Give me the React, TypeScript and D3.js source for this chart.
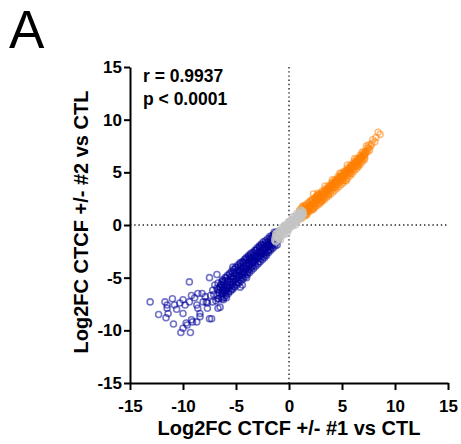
import React, { useRef, useEffect } from 'react';
import { select, scaleLinear, axisLeft, axisBottom } from 'd3';

const panelLabel = 'A';
const statLines = ['r = 0.9937', 'p < 0.0001'];
const xTitle = 'Log2FC CTCF +/- #1 vs CTL';
const yTitle = 'Log2FC CTCF +/- #2 vs CTL';
const xTicks = [-15, -10, -5, 0, 5, 10, 15];
const yTicks = [-15, -10, -5, 0, 5, 10, 15];

// down-regulated genes (blue), [log2FC #1, log2FC #2]
const downPoints = [
  [-1.0, -1.2], [-1.1, -0.8], [-1.2, -1.6], [-1.3, -1.1], [-1.4, -0.7], [-1.5, -1.5],
  [-1.6, -1.9], [-1.6, -1.2], [-1.7, -1.6], [-1.8, -2.3], [-1.8, -1.3], [-1.9, -1.8],
  [-2.0, -2.5], [-2.0, -1.6], [-2.1, -2.1], [-2.2, -2.8], [-2.2, -1.7], [-2.3, -2.4], [-2.3, -1.9],
  [-2.4, -3.0], [-2.5, -2.2], [-2.5, -2.7], [-2.6, -1.9], [-2.7, -3.2], [-2.7, -2.5], [-2.8, -2.9], [-2.8, -2.1],
  [-2.9, -3.5], [-3.0, -2.7], [-3.0, -3.1], [-3.1, -2.4], [-3.2, -3.7], [-3.2, -2.9], [-3.3, -3.3], [-3.3, -2.6],
  [-3.4, -3.9], [-3.5, -3.1], [-3.5, -3.6], [-3.6, -2.8], [-3.7, -4.2], [-3.7, -3.4], [-3.8, -3.8], [-3.8, -3.0],
  [-3.9, -4.5], [-4.0, -3.6], [-4.0, -4.1], [-4.1, -3.2], [-4.2, -4.7], [-4.2, -3.9], [-4.3, -4.3], [-4.3, -3.5],
  [-4.4, -5.0], [-4.5, -4.1], [-4.5, -4.6], [-4.6, -3.7], [-4.7, -5.2], [-4.7, -4.4], [-4.8, -4.8], [-4.8, -4.0],
  [-4.9, -5.5], [-5.0, -4.6], [-5.0, -5.1], [-5.1, -4.2], [-5.2, -5.8], [-5.2, -4.9], [-5.3, -5.4], [-5.3, -4.5],
  [-5.4, -6.1], [-5.5, -5.1], [-5.5, -5.7], [-5.6, -4.7], [-5.7, -6.3], [-5.8, -5.4], [-5.8, -5.9], [-5.9, -5.0],
  [-6.0, -6.5], [-6.1, -5.6], [-6.2, -6.1], [-6.3, -5.2], [-6.4, -6.8], [-6.5, -5.9], [-6.6, -6.4], [-6.7, -5.5],
  [-1.05, -1.5], [-1.25, -1.35], [-1.35, -1.8], [-1.45, -1.0], [-1.55, -1.6], [-1.65, -2.1], [-1.75, -1.4],
  [-1.85, -2.0], [-1.95, -2.4], [-2.05, -1.9], [-2.15, -2.6], [-2.25, -2.1], [-2.35, -2.7], [-2.45, -1.9],
  [-2.55, -2.5], [-2.65, -2.9], [-2.75, -2.2], [-2.85, -2.6], [-2.95, -3.2], [-3.05, -2.4], [-3.15, -3.0],
  [-3.25, -3.5], [-3.35, -2.9], [-3.45, -3.4], [-3.55, -4.0], [-3.65, -3.2], [-3.75, -3.7], [-3.85, -4.3],
  [-3.95, -3.3], [-4.05, -3.9], [-4.15, -4.5], [-4.25, -3.6], [-4.35, -4.1], [-4.45, -4.8], [-4.55, -3.9],
  [-4.65, -4.3], [-4.75, -5.0], [-4.85, -4.3], [-4.95, -4.8], [-5.05, -5.4], [-5.15, -4.6], [-5.25, -5.1],
  [-5.35, -5.7], [-5.45, -4.9], [-5.55, -5.4], [-5.65, -6.0], [-5.75, -5.2], [-5.85, -5.7], [-5.95, -6.3],
  [-6.05, -5.3], [-6.15, -5.9], [-6.25, -6.5], [-6.35, -5.7], [-6.55, -6.2], [-6.75, -6.7],
  [-1.02, -0.6], [-1.12, -1.9], [-1.22, -0.7], [-1.32, -2.0], [-1.42, -0.9], [-1.52, -2.2], [-1.62, -1.0],
  [-1.72, -2.4], [-1.82, -1.1], [-1.92, -2.6], [-2.02, -1.3], [-2.12, -2.9], [-2.22, -1.5], [-2.32, -3.1],
  [-2.42, -1.6], [-2.52, -3.3], [-2.62, -1.8], [-2.72, -3.5], [-2.82, -2.0], [-2.92, -3.7], [-3.02, -2.2],
  [-3.12, -3.9], [-3.22, -2.4], [-3.32, -4.1], [-3.42, -2.6], [-3.52, -4.3], [-3.62, -2.7], [-3.72, -4.5],
  [-3.82, -2.9], [-3.92, -4.7], [-4.02, -3.1], [-4.12, -4.9], [-4.22, -3.3], [-4.32, -5.1], [-4.42, -3.5],
  [-4.52, -5.3], [-4.62, -3.6], [-4.72, -5.5], [-4.82, -3.8], [-4.92, -5.7], [-5.02, -4.0], [-5.12, -5.9],
  [-5.22, -4.2], [-5.32, -6.1], [-5.42, -4.4], [-5.52, -6.3], [-5.62, -4.6], [-5.72, -6.5], [-5.82, -4.8],
  [-5.92, -6.7], [-6.02, -5.0], [-6.12, -6.9], [-6.22, -5.3], [-6.32, -6.2], [-6.42, -5.6], [-6.62, -7.0], [-6.72, -6.1],
  [-1.08, -1.3], [-1.38, -1.45], [-1.68, -1.8], [-1.98, -2.1], [-2.28, -2.3], [-2.58, -2.7], [-2.88, -3.0],
  [-3.18, -3.3], [-3.48, -3.6], [-3.78, -3.9], [-4.08, -4.2], [-4.38, -4.5], [-4.68, -4.8], [-4.98, -5.1],
  [-5.28, -5.4], [-5.58, -5.7], [-5.88, -6.0], [-6.18, -6.3],
  [-6.9, -7.2], [-6.8, -6.0], [-7.1, -6.6], [-6.3, -7.0], [-5.9, -6.9], [-4.4, -5.7], [-4.0, -5.0], [-3.7, -3.1],
  [-13.1, -7.3], [-12.3, -8.5], [-11.7, -7.3], [-11.5, -7.9], [-11.6, -8.8], [-11.0, -7.0], [-10.8, -7.6],
  [-10.6, -8.0], [-10.9, -9.4], [-10.2, -10.2], [-10.0, -7.1], [-10.0, -8.4], [-9.4, -5.4], [-9.3, -10.2],
  [-9.6, -9.5], [-9.1, -9.2], [-8.9, -6.9], [-8.7, -7.6], [-8.4, -8.4], [-8.2, -6.5], [-8.1, -7.3],
  [-7.7, -7.4], [-7.4, -6.7], [-7.5, -8.9], [-7.0, -5.7], [-6.5, -7.8], [-6.2, -7.1], [-7.5, -5.0],
  [-6.8, -4.7], [-6.3, -5.4], [-6.1, -6.2], [-6.7, -7.9], [-7.3, -8.9], [-4.6, -5.9], [-5.3, -4.0],
  [-10.3, -7.4], [-9.8, -7.6], [-9.4, -7.3], [-9.2, -6.7], [-8.6, -6.5], [-7.9, -6.8], [-7.8, -7.3],
  [-7.7, -7.9], [-8.6, -7.9], [-8.4, -8.7], [-8.7, -9.2], [-9.7, -9.3], [-10.0, -9.8], [-9.2, -9.0],
  [-7.2, -6.2], [-6.7, -7.0], [-6.5, -5.9], [-7.2, -7.3], [-6.3, -6.5], [-5.9, -6.2], [-11.4, -8.4], [-11.5, -7.6],
];

// up-regulated genes (orange)
const upPoints = [
  [1.0, 1.3], [1.1, 0.8], [1.2, 1.1], [1.3, 1.5], [1.4, 1.0], [1.5, 1.3], [1.6, 1.8], [1.7, 1.2],
  [1.8, 1.6], [1.9, 2.0], [2.0, 1.5], [2.1, 1.9], [2.2, 2.3], [2.3, 1.7], [2.4, 2.1], [2.5, 2.6],
  [2.6, 2.0], [2.7, 2.4], [2.8, 2.9], [2.9, 2.3], [3.0, 2.7], [3.1, 3.2], [3.2, 2.6], [3.3, 3.0],
  [3.4, 3.4], [3.5, 2.9], [3.6, 3.3], [3.7, 3.7], [3.8, 3.2], [3.9, 3.6], [4.0, 4.0], [4.1, 3.5],
  [4.2, 3.9], [4.3, 4.3], [4.4, 3.8], [4.5, 4.2], [4.6, 4.6], [4.7, 4.0], [4.8, 4.4], [4.9, 4.9],
  [5.0, 4.3], [5.1, 4.7], [5.2, 5.1], [5.3, 4.6], [5.4, 5.0], [5.5, 5.4], [5.6, 4.9], [5.7, 5.3],
  [5.8, 5.7], [5.9, 5.2], [6.0, 5.6], [6.1, 6.0], [6.2, 5.5], [6.3, 5.9], [6.4, 6.3], [6.5, 5.8],
  [6.6, 6.2], [6.7, 6.6], [6.8, 6.2], [6.9, 6.5], [7.0, 6.9], [7.1, 6.6], [7.2, 7.0],
  [1.15, 1.4], [1.45, 1.6], [1.75, 1.5], [2.05, 1.8], [2.35, 2.0], [2.65, 2.5], [2.95, 2.6],
  [3.25, 2.8], [3.55, 3.2], [3.85, 3.4], [4.15, 3.7], [4.45, 4.0], [4.75, 4.5], [5.05, 4.6],
  [5.35, 4.9], [5.65, 5.1], [5.95, 5.5], [6.25, 5.7], [6.55, 6.1], [6.85, 6.4],
  [1.05, 1.0], [1.25, 1.25], [1.35, 0.9], [1.55, 1.1], [1.65, 1.45], [1.85, 1.3], [1.95, 1.7],
  [2.15, 1.55], [2.25, 2.0], [2.45, 1.8], [2.55, 2.25], [2.75, 2.1], [2.85, 2.55], [3.05, 2.35],
  [3.15, 2.9], [3.35, 2.65], [3.45, 3.1], [3.65, 2.95], [3.75, 3.45], [3.95, 3.25], [4.05, 3.7],
  [4.25, 3.55], [4.35, 4.05], [4.55, 3.85], [4.65, 4.35], [4.85, 4.15], [4.95, 4.6], [5.15, 4.4],
  [5.25, 4.85], [5.45, 4.7], [5.55, 5.15], [5.75, 5.0], [5.85, 5.45], [6.05, 5.3], [6.15, 5.75],
  [6.35, 5.6], [6.45, 6.05], [6.65, 5.9], [6.75, 6.35], [6.95, 6.25], [7.05, 6.7], [7.15, 6.4],
  [1.3, 1.8], [2.0, 2.3], [2.7, 3.0], [3.4, 3.7], [4.1, 4.3], [4.8, 4.9], [5.5, 5.7], [6.2, 6.3], [6.9, 6.9],
  [1.6, 0.9], [2.3, 1.5], [3.0, 2.2], [3.7, 2.9], [4.4, 3.6], [5.1, 4.2], [5.8, 4.9], [6.5, 5.6],
  [1.02, 1.45], [1.12, 0.6], [1.22, 1.65], [1.32, 0.75], [1.42, 1.8], [1.52, 0.95], [1.62, 1.95],
  [1.72, 1.05], [1.82, 2.1], [1.92, 1.3], [2.02, 2.2], [2.12, 1.4], [2.22, 2.45], [2.32, 1.6],
  [2.42, 2.55], [2.52, 1.75], [2.62, 2.75], [2.72, 1.9], [2.82, 2.85], [2.92, 2.05], [3.02, 3.0],
  [3.12, 2.25], [3.22, 3.15], [3.32, 2.4], [3.42, 3.3], [3.52, 2.6], [3.62, 3.5], [3.72, 2.75],
  [3.82, 3.65], [3.92, 2.95], [4.02, 3.8], [4.12, 3.1], [4.22, 4.0], [4.32, 3.3], [4.42, 4.2],
  [4.52, 3.5], [4.62, 4.35], [4.72, 3.65], [4.82, 4.6], [4.92, 3.85], [5.02, 4.75], [5.12, 4.0],
  [5.22, 4.95], [5.32, 4.25], [5.42, 5.15], [5.52, 4.45], [5.62, 5.3], [5.72, 4.65], [5.82, 5.5],
  [5.92, 4.85], [6.02, 5.7], [6.12, 5.1], [6.22, 5.9], [6.32, 5.3], [6.42, 6.1], [6.52, 5.5],
  [6.62, 6.3], [6.72, 5.75], [6.82, 6.45], [6.92, 6.0], [7.02, 6.6], [7.12, 6.2], [7.22, 6.8],
  [7.32, 6.9], [7.42, 7.0], [7.55, 7.3], [7.7, 7.5],
  [1.08, 1.15], [1.38, 1.35], [1.68, 1.55], [1.98, 1.85], [2.28, 2.15], [2.58, 2.4], [2.88, 2.75],
  [3.18, 2.95], [3.48, 3.3], [3.78, 3.55], [4.08, 3.85], [4.38, 4.15], [4.68, 4.4], [4.98, 4.7],
  [5.28, 5.0], [5.58, 5.25], [5.88, 5.6], [6.18, 5.85], [6.48, 6.15], [6.78, 6.45], [7.08, 6.75],
  [7.3, 7.5], [7.4, 7.3], [7.5, 7.6], [7.6, 7.1], [7.8, 7.7], [7.9, 8.1], [8.1, 7.9], [8.2, 8.3],
  [8.4, 8.8], [8.6, 8.6], [5.4, 4.2], [2.3, 2.95], [3.2, 2.5], [2.65, 2.75], [6.5, 5.9],
];

// unchanged genes (grey)
const flatPoints = [
  [-1.3, -1.2], [-1.2, -1.5], [-1.1, -0.9], [-1.0, -1.3], [-0.9, -0.7], [-0.8, -1.1], [-0.7, -0.5],
  [-0.6, -0.9], [-0.5, -0.3], [-0.4, -0.7], [-0.3, -0.1], [-0.2, -0.5], [-0.1, 0.1], [0.0, -0.3],
  [0.1, 0.3], [0.2, -0.1], [0.3, 0.5], [0.4, 0.1], [0.5, 0.6], [0.6, 0.3], [0.7, 0.9], [0.8, 0.5],
  [0.9, 1.0], [1.0, 0.7], [1.1, 1.2], [1.2, 0.9], [1.3, 1.3], [-1.0, -0.6], [-0.6, -0.2],
  [-0.2, -0.8], [0.2, 0.5], [0.6, 0.0], [1.0, 1.1], [-0.8, -1.4], [0.4, 0.8], [-0.4, 0.0],
  [0.0, 0.3], [0.8, 0.9], [-1.2, -0.8],
  [-1.15, -1.1], [-0.95, -1.0], [-0.75, -0.8], [-0.55, -0.6], [-0.35, -0.4], [-0.15, -0.2],
  [0.05, 0.0], [0.25, 0.2], [0.45, 0.4], [0.65, 0.6], [0.85, 0.75], [1.05, 0.95], [1.25, 1.1],
  [-1.05, -1.1], [-0.65, -0.7], [-0.25, -0.3], [0.15, 0.1], [0.55, 0.45], [0.95, 0.85], [1.35, 1.05],
  [-1.35, -1.45], [-0.1, -0.4], [0.3, 0.0], [0.7, 0.4],
  [-1.25, -0.9], [-0.85, -0.5], [-0.45, -0.1], [-0.05, 0.3], [0.35, 0.7], [0.75, 1.1], [1.15, 1.4],
  [-1.25, -1.6], [-0.85, -1.2], [-0.45, -0.9], [-0.05, -0.5], [0.35, -0.1], [0.75, 0.3], [1.15, 0.7],
  [-0.7, -0.9], [-0.3, -0.5], [0.1, -0.1], [0.5, 0.2], [0.9, 0.6], [1.3, 0.9],
];

const font = "'Liberation Sans', Arial, Helvetica, sans-serif";

const App = () => {
  const svgRef = useRef(null);
  const width = 461;
  const height = 444;

  useEffect(() => {
    const svg = select(svgRef.current);
    svg.selectAll('*').remove();

    const x = scaleLinear().domain([-15, 15]).range([130, 448]);
    const y = scaleLinear().domain([-15, 15]).range([383, 67]);

    // dotted zero lines
    const zero = svg.append('g')
      .attr('stroke', '#222')
      .attr('stroke-width', 1.4)
      .attr('stroke-dasharray', '1.4 2.8');
    zero.append('line')
      .attr('x1', x(0)).attr('x2', x(0))
      .attr('y1', y(15)).attr('y2', y(-15));
    zero.append('line')
      .attr('x1', x(-15)).attr('x2', x(15))
      .attr('y1', y(0)).attr('y2', y(0));

    const groups = [
      { data: downPoints, color: '#000099', opacity: 0.55 },
      { data: upPoints, color: '#ff7f00', opacity: 0.5 },
      { data: flatPoints, color: '#c4c4c4', opacity: 0.75 },
    ];
    groups.forEach(g => {
      svg.append('g')
        .selectAll('circle')
        .data(g.data)
        .join('circle')
        .attr('cx', d => x(d[0]))
        .attr('cy', d => y(d[1]))
        .attr('r', 3)
        .attr('fill', 'none')
        .attr('stroke', g.color)
        .attr('stroke-opacity', g.opacity)
        .attr('stroke-width', 1.6);
    });

    const yAxis = axisLeft(y).tickValues(yTicks).tickSize(6).tickSizeOuter(0)
      .tickPadding(2).tickFormat(d => String(d));
    svg.append('g')
      .attr('transform', 'translate(130,0)')
      .call(yAxis);

    const xAxis = axisBottom(x).tickValues(xTicks).tickSize(7).tickSizeOuter(0)
      .tickPadding(10).tickFormat(d => String(d));
    svg.append('g')
      .attr('transform', 'translate(0,383)')
      .call(xAxis);

    svg.selectAll('.domain, .tick line')
      .attr('stroke', '#000')
      .attr('stroke-width', 2);
    svg.selectAll('.tick text')
      .attr('fill', '#000')
      .style('font-family', font)
      .style('font-size', '17px')
      .style('font-weight', 'bold');

    svg.append('text')
      .attr('x', 9).attr('y', 48)
      .style('font-family', font)
      .style('font-size', '53px')
      .text(panelLabel);

    svg.selectAll('.stat')
      .data(statLines)
      .join('text')
      .attr('class', 'stat')
      .attr('x', 143)
      .attr('y', (d, i) => 82 + i * 23)
      .style('font-family', font)
      .style('font-size', '17.5px')
      .style('font-weight', 'bold')
      .text(d => d);

    svg.append('text')
      .attr('x', x(0)).attr('y', 435)
      .attr('text-anchor', 'middle')
      .style('font-family', font)
      .style('font-size', '20px')
      .style('font-weight', 'bold')
      .text(xTitle);

    svg.append('text')
      .attr('transform', 'translate(88,222) rotate(-90)')
      .attr('text-anchor', 'middle')
      .style('font-family', font)
      .style('font-size', '20px')
      .style('font-weight', 'bold')
      .text(yTitle);
  }, []);

  return (
    <svg ref={svgRef} width={width} height={height}
      style={{ position: 'absolute', left: 0, top: 0, background: '#fff' }} />
  );
};

export default App;
